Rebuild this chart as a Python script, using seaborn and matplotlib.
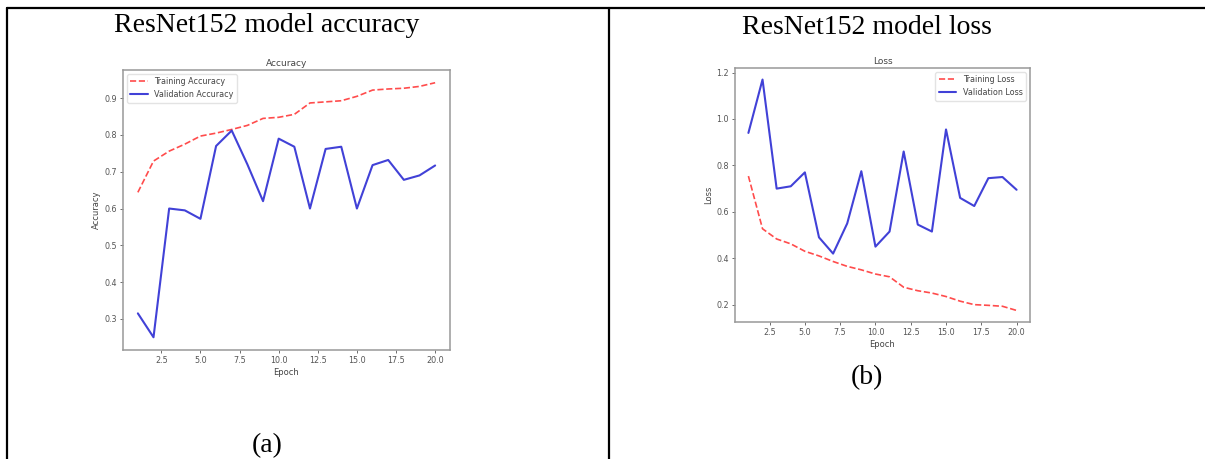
import numpy as np
import pandas as pd
import matplotlib
matplotlib.use("Agg")
import matplotlib.pyplot as plt
import seaborn as sns
from matplotlib.lines import Line2D

# data
epochs = list(range(1, 21))
train_acc = [0.644, 0.729, 0.756, 0.775, 0.797, 0.805, 0.815, 0.826, 0.845, 0.848,
             0.856, 0.887, 0.890, 0.893, 0.905, 0.922, 0.925, 0.927, 0.932, 0.942]
val_acc = [0.315, 0.250, 0.600, 0.595, 0.572, 0.770, 0.812, 0.720, 0.620, 0.790,
           0.768, 0.600, 0.762, 0.768, 0.600, 0.718, 0.732, 0.678, 0.690, 0.717]
train_loss = [0.754, 0.527, 0.483, 0.462, 0.430, 0.410, 0.386, 0.365, 0.350, 0.332,
              0.320, 0.275, 0.260, 0.250, 0.235, 0.215, 0.200, 0.197, 0.193, 0.175]
val_loss = [0.940, 1.170, 0.700, 0.710, 0.770, 0.490, 0.420, 0.550, 0.775, 0.450,
            0.515, 0.860, 0.545, 0.515, 0.955, 0.660, 0.625, 0.745, 0.750, 0.695]

panel_titles = ["ResNet152 model accuracy", "ResNet152 model loss"]
captions = ["(a)", "(b)"]

sns.set_style("white")
W, H = 1205, 459
fig = plt.figure(figsize=(W / 100, H / 100), dpi=100)


def box(x0, y0, x1, y1):
    # pixel box (top-left origin) -> figure fraction rect
    return [x0 / W, 1 - y1 / H, (x1 - x0) / W, (y1 - y0) / H]


def style_ax(ax, title, ylabel, legend_loc):
    ax.set_title(title, fontsize=6.5, color="#444444", pad=3)
    ax.set_xlabel("Epoch", fontsize=6, color="#444444", labelpad=2)
    ax.set_ylabel(ylabel, fontsize=6, color="#444444", labelpad=2)
    ax.tick_params(axis="both", labelsize=5.8, colors="#555555", length=2.5,
                   width=0.6, pad=2, left=True, bottom=True)
    for s in ax.spines.values():
        s.set_color("#999999")
        s.set_linewidth(1.1)
    ax.legend(loc=legend_loc, fontsize=5.8, frameon=True, handlelength=2.2,
              labelcolor="#444444", edgecolor="#dddddd")


ax1 = fig.add_axes(box(123, 70, 450, 350))
sns.lineplot(x=epochs, y=train_acc, ax=ax1, color="red", linestyle="--",
             linewidth=1.2, alpha=0.7, label="Training Accuracy")
sns.lineplot(x=epochs, y=val_acc, ax=ax1, color="#2020d0", linewidth=1.5,
             alpha=0.85, label="Validation Accuracy")
style_ax(ax1, "Accuracy", "Accuracy", "upper left")

ax2 = fig.add_axes(box(735, 68, 1030, 322))
sns.lineplot(x=epochs, y=train_loss, ax=ax2, color="red", linestyle="--",
             linewidth=1.2, alpha=0.7, label="Training Loss")
sns.lineplot(x=epochs, y=val_loss, ax=ax2, color="#2020d0", linewidth=1.5,
             alpha=0.85, label="Validation Loss")
style_ax(ax2, "Loss", "Loss", "upper right")

# serif headings and captions of the table cells
serif = ["Liberation Serif", "DejaVu Serif"]
fig.text(267 / W, 1 - 25 / H, panel_titles[0], ha="center", va="center",
         fontsize=20, family=serif, color="black")
fig.text(867 / W, 1 - 27 / H, panel_titles[1], ha="center", va="center",
         fontsize=20, family=serif, color="black")
fig.text(267 / W, 1 - 446 / H, captions[0], ha="center", va="center",
         fontsize=20, family=serif, color="black")
fig.text(867 / W, 1 - 378 / H, captions[1], ha="center", va="center",
         fontsize=20, family=serif, color="black")

# table borders
lw = 1.6
fig.add_artist(Line2D([7 / W, 1], [1 - 8 / H, 1 - 8 / H], color="black", lw=lw))
fig.add_artist(Line2D([7 / W, 7 / W], [0, 1 - 8 / H], color="black", lw=lw))
fig.add_artist(Line2D([609 / W, 609 / W], [0, 1 - 8 / H], color="black", lw=lw))

fig.savefig("out.png", dpi=100)
